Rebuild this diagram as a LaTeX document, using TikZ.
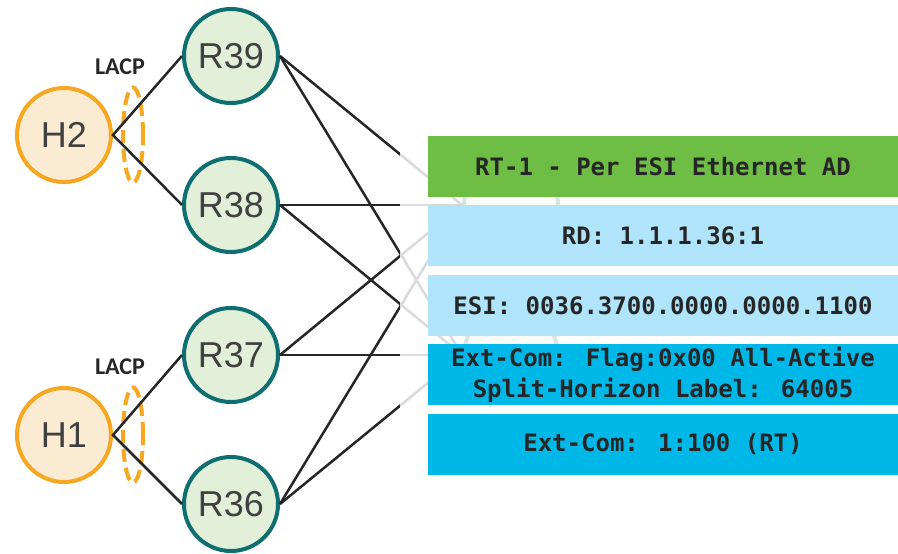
\documentclass[tikz,border=0pt]{standalone}
\usepackage{fontspec}
\setmainfont{Liberation Sans}
\newfontfamily\lacpfont{Carlito}
\newfontfamily\tlvfont{DejaVu Sans Mono}
\usetikzlibrary{positioning, shapes.geometric}
\definecolor{hostfill}{HTML}{FCEBD3}
\definecolor{hostline}{HTML}{F7A823}
\definecolor{routerfill}{HTML}{E2F0D9}
\definecolor{routerline}{HTML}{0F6E72}
\definecolor{nodetext}{HTML}{404040}
\definecolor{linkcolor}{HTML}{262626}
\definecolor{rtgreen}{HTML}{6EBE46}
\definecolor{rdblue}{HTML}{B0E4FA}
\definecolor{extcyan}{HTML}{00B8E8}
\tikzset{
    fabric/.style={x=1pt, y=-1pt, font=\fontsize{36}{40}\selectfont},
    host/.style={circle, draw=hostline, fill=hostfill, line width=4pt, minimum size=94pt, inner sep=0pt, text=nodetext},
    router/.style={circle, draw=routerline, fill=routerfill, line width=4pt, minimum size=94pt, inner sep=0pt, text=nodetext},
    lag/.style={ellipse, draw=hostline, dash pattern=on 13pt off 6pt, line width=4pt, minimum width=20pt, minimum height=95pt, inner sep=0pt},
    lacp/.style={font=\lacpfont\bfseries\fontsize{24}{28}\selectfont, text=linkcolor},
    link/.style={draw=linkcolor, line width=2.5pt},
    % route fields on the right
    tlv/.style={minimum width=470pt, minimum height=61pt, inner sep=0pt, align=center,
        font=\tlvfont\bfseries\fontsize{24}{31}\selectfont, text=linkcolor},
}
\begin{document}
\begin{tikzpicture}[fabric]
    \useasboundingbox (0,0) rectangle (898,554);

    \node[host]   (h2)  at (64,135) {H2};
    \node[host]   (h1)  at (64,435) {H1};
    \node[router] (r39) at (231,56)  {R39};
    \node[router] (r38) at (231,205) {R38};
    \node[router] (r37) at (231,355) {R37};
    \node[router] (r36) at (231,504) {R36};
    \node[router] (s1)  at (511,205) {};
    \node[router] (s2)  at (511,355) {};

    \node[lag] (lag2) at (133,135) {};
    \node[lag] (lag1) at (133,435) {};
    \node[lacp] (lacp2) at (120,67)  {LACP};
    \node[lacp] (lacp1) at (120,367) {LACP};

    \draw[link] (r39.west) -- (h2.east) -- (r38.west);
    \draw[link] (r37.west) -- (h1.east) -- (r36.west);

    % full mesh towards the far side
    \foreach \r in {r39, r38, r37, r36} {
        \draw[link] (\r.east) -- (s1.west);
        \draw[link] (\r.east) -- (s2.west);
    }

    \fill[white, opacity=0.83] (400,0) rectangle (898,554);

    \node[tlv, fill=rtgreen] (rt1) at (663,166.5) {RT-1 - Per ESI Ethernet AD};
    \node[tlv, fill=rdblue, below=8pt of rt1]    (rd)  {RD: 1.1.1.36:1};
    \node[tlv, fill=rdblue, below=8pt of rd]     (esi) {ESI: 0036.3700.0000.0000.1100};
    \node[tlv, fill=extcyan, below=8pt of esi]   (flag) {Ext-Com: Flag:0x00 All-Active\\Split-Horizon Label: 64005};
    \node[tlv, fill=extcyan, below=8pt of flag]  (rt)  {Ext-Com: 1:100 (RT)};
\end{tikzpicture}
\end{document}
